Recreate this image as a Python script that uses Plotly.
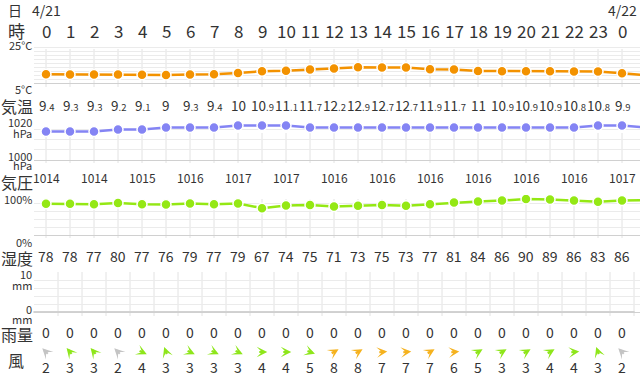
import math
import plotly.graph_objects as go

# ---------------- data ----------------
hours = list(range(26))                      # 0..23 on 4/21, 0..1 on 4/22
hour_labels = [str(h % 24) for h in hours]
date_labels = {0: "4/21", 24: "4/22"}

temperature = [9.4, 9.3, 9.3, 9.2, 9.1, 9.0, 9.3, 9.4, 10.0, 10.9, 11.1, 11.7, 12.2,
               12.9, 12.7, 12.7, 11.9, 11.7, 11.0, 10.9, 10.9, 10.9, 10.8, 10.8, 9.9, 8.9]
pressure = [1014, 1014, 1014, 1015, 1015, 1016, 1016, 1016, 1017, 1017, 1017, 1016, 1016,
            1016, 1016, 1016, 1016, 1016, 1016, 1016, 1016, 1016, 1016, 1017, 1017, 1016]
humidity = [78, 78, 77, 80, 77, 76, 79, 77, 79, 67, 74, 75, 71, 73, 75, 73, 77, 81, 84,
            86, 90, 89, 86, 83, 86, 87]
rain = [0] * 26
wind_speed = [2, 3, 3, 2, 4, 3, 3, 3, 3, 4, 4, 5, 8, 8, 7, 7, 7, 6, 5, 3, 3, 4, 4, 3, 2, 2]
# direction the wind arrow points, degrees clockwise from up
wind_angle = [-45, -40, -40, -45, 115, -20, 115, 115, 115, 90, 90, 110, 60, 60, 85, 85,
              60, 85, 60, 60, 60, 60, 85, -20, -45, -45]

# ---------------- styling helpers ----------------
W, H = 640, 376
FONT = "Noto Sans CJK JP"
TXT = "#333333"
GRID = "#ebebeb"
VGRID = "#e2e2e2"
XDOM = [34 / W, 1.0]
XRANGE = [-0.5, 24.75]


def py(p):
    return 1 - p / H


def wind_color(s):
    if s <= 2:
        return "#c4c4c4"
    if s <= 5:
        return "#8ee61a"
    return "#f5b21e"


fig = go.Figure()

# temperature
fig.add_trace(go.Scatter(x=hours, y=temperature, mode="lines+markers", xaxis="x", yaxis="y",
                         line=dict(color="#f39200", width=2.5),
                         marker=dict(size=10, color="#f39200", line=dict(color="white", width=1.5)),
                         hoverinfo="skip"))
# pressure
fig.add_trace(go.Scatter(x=hours, y=pressure, mode="lines+markers", xaxis="x2", yaxis="y2",
                         line=dict(color="#8484f4", width=2.5),
                         marker=dict(size=10, color="#8484f4", line=dict(color="white", width=1.5)),
                         hoverinfo="skip"))
# humidity
fig.add_trace(go.Scatter(x=hours, y=humidity, mode="lines+markers", xaxis="x3", yaxis="y3",
                         line=dict(color="#94e814", width=2.5),
                         marker=dict(size=10, color="#94e814", line=dict(color="white", width=1.5)),
                         hoverinfo="skip"))
# rain (zero values shown as grey dashes)
fig.add_trace(go.Scatter(x=hours, y=rain, mode="markers", xaxis="x4", yaxis="y4",
                         marker=dict(symbol="line-ew", size=18, line=dict(color="#d2d2d2", width=2)),
                         cliponaxis=False, hoverinfo="skip"))

panels = [
    # (suffix, y-range, dtick, top px, bottom px)
    ("", [5, 25], 2, 43, 83),
    ("2", [1000, 1020], 5, 119.5, 159.5),
    ("3", [0, 100], 20, 195, 235),
    ("4", [0, 10], 2, 272, 312),
]
layout_axes = {}
for suf, rng, dt, top, bot in panels:
    layout_axes["xaxis" + suf] = dict(domain=XDOM, range=XRANGE, showgrid=False, zeroline=False,
                                      showticklabels=False, ticks="", showline=True,
                                      linecolor="#d0d0d0", linewidth=1, anchor="y" + suf,
                                      fixedrange=True)
    layout_axes["yaxis" + suf] = dict(domain=[py(bot), py(top)], range=rng, dtick=dt, tick0=rng[0],
                                      showgrid=True, gridcolor=GRID, gridwidth=1, zeroline=False,
                                      showticklabels=False, ticks="", anchor="x" + suf,
                                      fixedrange=True)

# vertical grid lines
shapes = []
vgrid = [("x", 0.0, 49, 87), ("x2", 0.0, 133, 163), ("x3", 0.0, 199, 238), ("x4", 0.5, 272, 316)]
for xr, off, y0, y1 in vgrid:
    for h in hours:
        shapes.append(dict(type="line", xref=xr, yref="paper", x0=h + off, x1=h + off,
                           y0=py(y1), y1=py(y0), line=dict(color=VGRID, width=1), layer="below"))

ann = []


def txt(x, y, text, size, xref="x", xanchor="center", color=TXT):
    ann.append(dict(x=x, y=py(y), xref=xref, yref="paper", text=text, showarrow=False,
                    xanchor=xanchor, yanchor="middle", font=dict(family=FONT, size=size, color=color)))


# row titles
txt(15 / W, 10, "日", 14, xref="paper")
txt(16 / W, 31, "時", 17, xref="paper")
txt(17 / W, 106, "気温", 16, xref="paper")
txt(17 / W, 182, "気圧", 16, xref="paper")
txt(17 / W, 258, "湿度", 16, xref="paper")
txt(17 / W, 334, "雨量", 16, xref="paper")
txt(16 / W, 360, "風", 16, xref="paper")

# unit labels
for y, t in [(45, "25°C"), (89.5, "5°C"), (122, "1020"), (133, "hPa"), (155.5, "1000"),
             (164.5, "hPa"), (198.5, "100%"), (242, "0%"), (274, "10"), (285, "mm"),
             (308.5, "0"), (318.5, "mm")]:
    txt(33.5 / W, y, t, 11, xref="paper", xanchor="right")

# dates and hours
for h, d in date_labels.items():
    txt(h, 10, d, 14)
for h in hours[:25]:
    txt(h, 31, hour_labels[h], 17)


def temp_text(v):
    if abs(v - round(v)) < 1e-9:
        return str(int(round(v)))
    s = f"{v:.1f}"
    a, b = s.split(".")
    return f"{a}<span style='font-size:9.5px'>.{b}</span>"


for h in hours[:25]:
    txt(h, 105, temp_text(temperature[h]), 13.5)
    txt(h, 256, str(humidity[h]), 14)
    txt(h, 332, str(rain[h]), 14)
    txt(h, 367, str(wind_speed[h]), 14)
for h in hours[:25:2]:
    txt(h, 178, str(pressure[h]), 12)

# wind direction arrowheads (notched heads, centred on the column)
ARROW_W = 2.2
ARROW_SIZE = 0.8
HEAD_LEN = 6 * ARROW_W * ARROW_SIZE
TAIL = 8.5
for h in hours[:25]:
    t = math.radians(wind_angle[h])
    s, c = math.sin(t), math.cos(t)
    ann.append(dict(x=h, y=py(352), xref="x", yref="paper", text=" ", font=dict(size=1),
                    showarrow=True, arrowhead=3, arrowsize=ARROW_SIZE, arrowwidth=ARROW_W,
                    arrowcolor=wind_color(wind_speed[h]), standoff=0, borderpad=0,
                    axref="pixel", ayref="pixel", ax=-TAIL * s, ay=TAIL * c,
                    xshift=HEAD_LEN / 2 * s, yshift=HEAD_LEN / 2 * c))

fig.update_layout(width=W, height=H, margin=dict(l=0, r=0, t=0, b=0), paper_bgcolor="white",
                  plot_bgcolor="rgba(0,0,0,0)", showlegend=False, shapes=shapes, annotations=ann,
                  **layout_axes)

fig.write_html("out.html", config={"displayModeBar": False},
               post_script="document.body.style.margin='0';document.body.style.overflow='hidden';")
